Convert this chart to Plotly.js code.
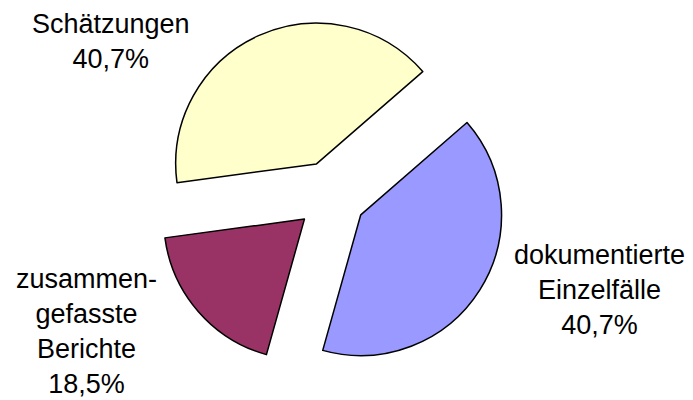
<!DOCTYPE html>
<html>
<head>
<meta charset="utf-8">
<script src="https://cdn.plot.ly/plotly-3.0.1.min.js"></script>
<style>html,body{margin:0;padding:0;background:#fff;}#chart{width:693px;height:400px;}</style>
</head>
<body>
<div id="chart"></div>
<script>
var categories = ["dokumentierte Einzelfälle", "zusammengefasste Berichte", "Schätzungen"];
var values = [40.7, 18.5, 40.7];
var labelLines = [
  ["dokumentierte", "Einzelfälle"],
  ["zusammen-", "gefasste", "Berichte"],
  ["Schätzungen"]
];
var percentText = ["40,7%", "18,5%", "40,7%"];
var colors = ["#9999FF", "#993366", "#FFFFCC"];

var labelPos = [
  {x: 599, y: 290},
  {x: 86, y: 331},
  {x: 111, y: 41}
];

var W = 693, H = 400;
var annotations = categories.map(function (c, i) {
  return {
    text: labelLines[i].concat([percentText[i]]).join("<br>"),
    x: labelPos[i].x / W,
    y: 1 - labelPos[i].y / H,
    xref: "paper", yref: "paper",
    xanchor: "center", yanchor: "middle",
    align: "center",
    showarrow: false,
    borderpad: 0,
    font: {family: "Liberation Sans, Arial, sans-serif", size: 27, color: "#000"}
  };
});

var trace = {
  type: "pie",
  labels: categories,
  values: values,
  sort: false,
  direction: "clockwise",
  rotation: 49,
  pull: [0.25, 0.25, 0.25],
  textinfo: "none",
  hoverinfo: "label+percent",
  marker: {colors: colors, line: {color: "#000", width: 1.5}},
  domain: {x: [0.2237, 0.7316], y: [0.07, 0.95]},
  showlegend: false
};

var layout = {
  width: W, height: H,
  margin: {l: 0, r: 0, t: 0, b: 0},
  paper_bgcolor: "#fff",
  showlegend: false,
  annotations: annotations
};

Plotly.newPlot("chart", [trace], layout, {displayModeBar: false, staticPlot: true});
</script>
</body>
</html>
